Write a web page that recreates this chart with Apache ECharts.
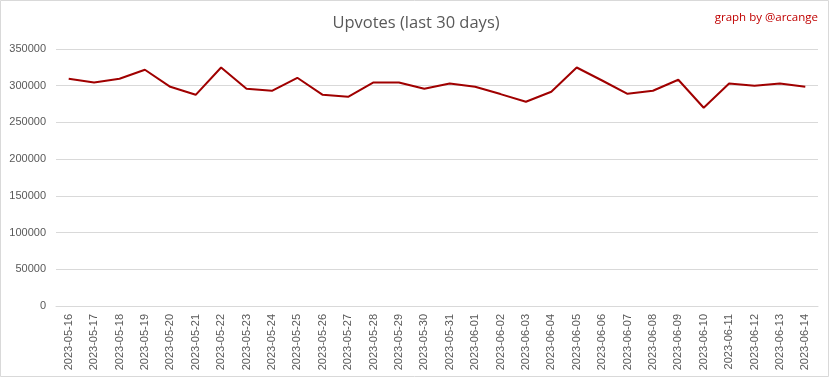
<!DOCTYPE html>
<html><head><meta charset="utf-8">
<script src="https://cdn.jsdelivr.net/npm/echarts@6/dist/echarts.min.js"></script>
<style>html,body{margin:0;padding:0;background:#fff}#c{width:832px;height:379px}</style>
</head><body><div id="c"></div>
<script>
var categories = ["2023-05-16","2023-05-17","2023-05-18","2023-05-19","2023-05-20","2023-05-21","2023-05-22","2023-05-23","2023-05-24","2023-05-25","2023-05-26","2023-05-27","2023-05-28","2023-05-29","2023-05-30","2023-05-31","2023-06-01","2023-06-02","2023-06-03","2023-06-04","2023-06-05","2023-06-06","2023-06-07","2023-06-08","2023-06-09","2023-06-10","2023-06-11","2023-06-12","2023-06-13","2023-06-14"];
var upvotes = [309400,304400,309400,321700,298500,287600,324800,295800,293100,310800,287600,284900,304400,304400,295800,303000,298500,288600,278100,291800,324800,307100,289000,293100,308100,270000,303000,299900,303000,298500];
var titleText = "Upvotes (last 30 days)";
var creditText = "graph by @arcange";

var chart = echarts.init(document.getElementById('c'), null, {renderer:'canvas'});
chart.setOption({
  animation:false,
  backgroundColor:'#fff',
  title:[{text:titleText,left:'center',top:10,textStyle:{fontFamily:'Open Sans',fontSize:16.5,fontWeight:'normal',color:'#595959'}},
         {text:creditText,right:9,top:7,textStyle:{fontFamily:'Open Sans',fontSize:11.5,fontWeight:'normal',color:'#c00000'}}],
  graphic:[{type:'rect',shape:{x:0.5,y:0.5,width:828,height:376},style:{fill:'none',stroke:'#d9d9d9',lineWidth:1},silent:true}],
  grid:{left:56,right:14,top:49,bottom:73,containLabel:false},
  xAxis:{type:'category',data:categories,boundaryGap:true,
    axisLine:{lineStyle:{color:'#d9d9d9'}},axisTick:{show:false},
    axisLabel:{rotate:90,interval:0,fontFamily:'Liberation Sans',fontSize:11,color:'#595959',margin:8}},
  yAxis:{type:'value',min:0,max:350000,interval:50000,
    axisLine:{show:false},axisTick:{show:false},
    splitLine:{lineStyle:{color:'#d9d9d9'}},
    axisLabel:{fontFamily:'Liberation Sans',fontSize:11,color:'#595959',margin:10,formatter:function(v){return String(v);}}},
  series:[{type:'line',data:upvotes,symbol:'none',lineStyle:{color:'#a00000',width:2},itemStyle:{color:'#a00000'}}]
});
</script></body></html>
